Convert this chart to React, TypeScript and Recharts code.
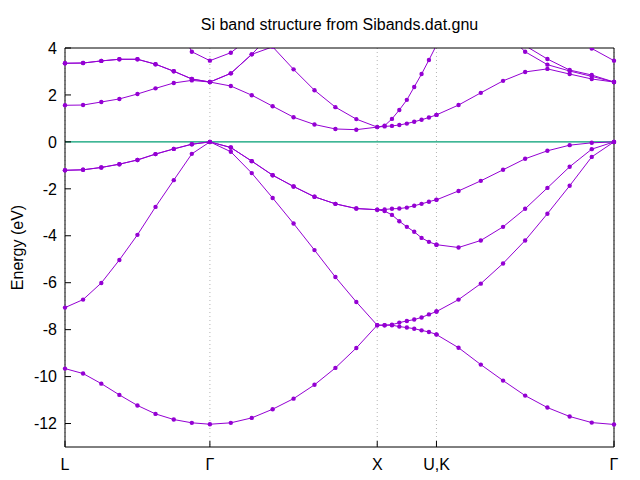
import { LineChart, Line, XAxis, YAxis, CartesianGrid, ReferenceLine } from 'recharts';

// k-path distances (L - Γ - X - U|K - Γ); U and K share one position
const kDist = [
  0, 0.108, 0.217, 0.325, 0.433, 0.541, 0.65, 0.758, 0.866,
  0.991, 1.116, 1.241, 1.366, 1.491, 1.616, 1.741, 1.866,
  1.91, 1.954, 1.998, 2.043, 2.087, 2.131, 2.175, 2.22,
  2.22, 2.352, 2.485, 2.618, 2.75, 2.883, 3.016, 3.148, 3.281,
];

const kTicks = [0, 0.866, 1.866, 2.22, 3.281];
const kLabels = ['L', 'Γ', 'X', 'U,K', 'Γ'];
const eTicks = [-12, -10, -8, -6, -4, -2, 0, 2, 4];

// band energies in eV, one value per k-point
const band1 = [
  -9.66, -9.87, -10.3, -10.78, -11.23, -11.59, -11.83, -11.97, -12.03,
  -11.97, -11.76, -11.39, -10.94, -10.35, -9.63, -8.78, -7.81,
  -7.81, -7.81, -7.87, -7.91, -7.96, -8.03, -8.1, -8.2,
  -8.21, -8.77, -9.49, -10.17, -10.81, -11.32, -11.7, -11.96, -12.04,
];
const band2 = [
  -7.06, -6.72, -6.01, -5.03, -3.96, -2.77, -1.63, -0.51, 0,
  -0.42, -1.33, -2.39, -3.48, -4.61, -5.76, -6.82, -7.81,
  -7.81, -7.79, -7.7, -7.63, -7.57, -7.48, -7.35, -7.23,
  -7.23, -6.72, -6.04, -5.18, -4.2, -3.06, -1.87, -0.64, 0,
];
const band3 = [
  -1.21, -1.19, -1.09, -0.95, -0.77, -0.52, -0.3, -0.1, 0,
  -0.24, -0.82, -1.42, -1.9, -2.34, -2.64, -2.84, -2.89,
  -2.95, -3.11, -3.38, -3.62, -3.83, -4.09, -4.26, -4.38,
  -4.38, -4.5, -4.2, -3.62, -2.85, -1.96, -1.06, -0.31, 0,
];
const band4 = [
  -1.21, -1.19, -1.09, -0.95, -0.77, -0.52, -0.3, -0.1, 0,
  -0.24, -0.82, -1.42, -1.9, -2.34, -2.64, -2.84, -2.89,
  -2.88, -2.85, -2.84, -2.8, -2.72, -2.64, -2.55, -2.46,
  -2.47, -2.09, -1.66, -1.19, -0.72, -0.38, -0.14, -0.04, 0,
];
const band5 = [
  1.56, 1.57, 1.7, 1.83, 2.04, 2.28, 2.51, 2.62, 2.55,
  2.38, 1.99, 1.52, 1.05, 0.74, 0.55, 0.52, 0.63,
  0.66, 0.68, 0.72, 0.78, 0.86, 0.94, 1.04, 1.15,
  1.15, 1.57, 2.09, 2.6, 2.98, 3.11, 2.89, 2.68, 2.55,
];
const band6 = [
  3.35, 3.36, 3.45, 3.52, 3.52, 3.31, 3.01, 2.68, 2.55,
  2.92, 3.73, 4.05, 3.09, 2.2, 1.48, 0.97, 0.63,
  0.69, 0.98, 1.36, 1.79, 2.34, 2.89, 3.49, 4.12,
  4.12, 4.45, 4.7, 4.76, 3.84, 3.29, 3.02, 2.79, 2.55,
];
const band7 = [
  3.35, 3.36, 3.45, 3.52, 3.52, 3.31, 3.01, 2.68, 2.55,
  2.92, 3.73, 4.65, 5.6, 6.5, 7.4, 8.2, 8.9,
  8.8, 8.6, 8.3, 8.0, 7.7, 7.4, 7.1, 6.8,
  6.8, 6.3, 5.8, 5.0, 4.1, 3.53, 3.06, 2.85, 2.55,
];
const band8 = [
  7.6, 7.5, 7.3, 7.0, 6.6, 6.1, 5.3, 3.84, 3.46,
  3.8, 4.5, 5.3, 6.2, 7.0, 7.8, 8.5, 8.9,
  8.9, 8.8, 8.6, 8.4, 8.2, 8.0, 7.8, 7.6,
  7.6, 7.2, 6.8, 6.3, 5.7, 5.0, 4.5, 3.98, 3.46,
];

const bands = [band1, band2, band3, band4, band5, band6, band7, band8];

const data = kDist.map((k, i) => {
  const row: Record<string, number> = { k };
  bands.forEach((b, j) => {
    row[`b${j + 1}`] = b[i];
  });
  return row;
});

const FONT = '"Liberation Sans", Arial, Helvetica, sans-serif';
const VIOLET = '#9400d3';

const Title = ({ viewBox }: any) => {
  if (!viewBox) return null;
  return (
    <text
      x={viewBox.x + viewBox.width / 2}
      y={viewBox.y + 2}
      textAnchor="middle"
      fontFamily={FONT}
      fontSize={16}
      fill="#000"
    >
      Si band structure from Sibands.dat.gnu
    </text>
  );
};

const EnergyLabel = ({ viewBox }: any) => {
  if (!viewBox) return null;
  const cx = viewBox.x - 8;
  const cy = viewBox.y + viewBox.height / 2;
  return (
    <text
      x={cx}
      y={cy}
      transform={`rotate(-90 ${cx} ${cy})`}
      textAnchor="middle"
      dominantBaseline="central"
      fontFamily={FONT}
      fontSize={16}
      fill="#000"
    >
      Energy (eV)
    </text>
  );
};

const App = () => {
  return (
    <div style={{ position: 'absolute', left: 0, top: 0, width: 640, height: 480, background: '#fff' }}>
      <LineChart
        width={640}
        height={480}
        data={data}
        margin={{ top: 28, right: 6, left: 25, bottom: 3 }}
      >
        <CartesianGrid horizontal={false} stroke="#b4b4b4" strokeDasharray="1 3" />
        <XAxis
          dataKey="k"
          type="number"
          domain={[0, 3.281]}
          ticks={kTicks}
          interval={0}
          height={30}
          tickSize={-6}
          tickMargin={18}
          stroke="#000"
          tick={{ fontSize: 16, fill: '#000', fontFamily: FONT }}
          tickFormatter={(v: number) => kLabels[kTicks.indexOf(v)]}
        />
        <XAxis
          xAxisId="t"
          orientation="top"
          type="number"
          domain={[0, 3.281]}
          ticks={kTicks}
          interval={0}
          height={20}
          tickSize={-6}
          stroke="#000"
          tick={false}
          label={<Title />}
        />
        <YAxis
          type="number"
          domain={[-13, 4]}
          ticks={eTicks}
          interval={0}
          allowDataOverflow
          width={40}
          tickSize={-6}
          tickMargin={14}
          stroke="#000"
          tick={{ fontSize: 16, fill: '#000', fontFamily: FONT }}
          label={<EnergyLabel />}
        />
        <YAxis
          yAxisId="r"
          orientation="right"
          type="number"
          domain={[-13, 4]}
          ticks={eTicks}
          interval={0}
          allowDataOverflow
          width={20}
          tickSize={-6}
          stroke="#000"
          tick={false}
        />
        <ReferenceLine y={0} stroke="#009e73" strokeWidth={1.2} />
        {bands.map((_, j) => (
          <Line
            key={j}
            dataKey={`b${j + 1}`}
            type="linear"
            stroke={VIOLET}
            strokeWidth={1}
            dot={{ r: 2.2, fill: VIOLET, stroke: 'none' }}
            activeDot={false}
            isAnimationActive={false}
          />
        ))}
      </LineChart>
    </div>
  );
};

export default App;
